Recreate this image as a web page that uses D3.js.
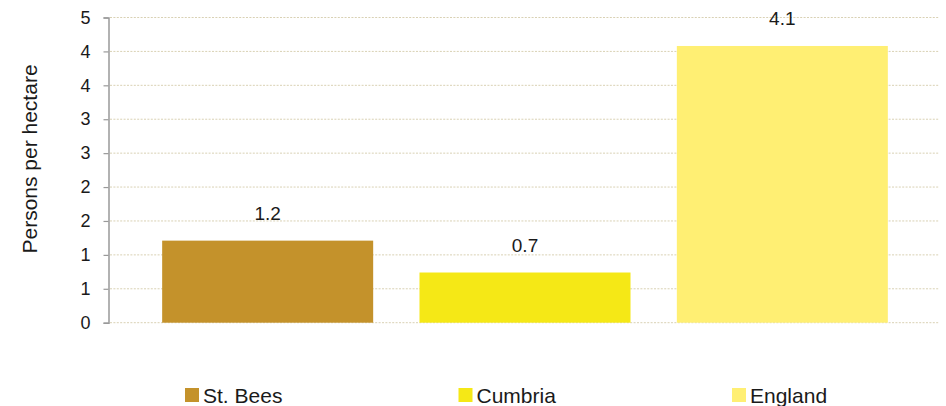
<!DOCTYPE html>
<html lang="en">
<head>
    <meta charset="UTF-8">
    <title>Persons per hectare</title>
    <script type="text/javascript" src="https://cdn.jsdelivr.net/npm/d3@7/dist/d3.min.js"></script>
    <style>
        body { margin: 0; background: #fff; }
        text { font-family: Arial, "Liberation Sans", sans-serif; fill: #1a1a1a; }
    </style>
</head>
<body>
<script type="text/javascript">
    const width = 946, height = 406;

    // data
    const categories = ['St. Bees', 'Cumbria', 'England'];
    const values = [1.21, 0.74, 4.08];
    const valueLabels = ['1.2', '0.7', '4.1'];
    const colors = ['#c4922b', '#f5e816', '#ffef73'];
    const tickValues = [0, 0.5, 1, 1.5, 2, 2.5, 3, 3.5, 4, 4.5];
    const tickLabels = ['0', '1', '1', '2', '2', '3', '3', '4', '4', '5'];

    const svg = d3.select('body').append('svg')
        .attr('width', width)
        .attr('height', height);

    const y = d3.scaleLinear().domain([0, 4.5]).range([322.7, 17.5]);
    const x = d3.scaleBand().domain(categories).range([139, 911])
        .paddingInner(0.18).paddingOuter(0.09);

    // grid lines (dotted)
    svg.append('g')
        .selectAll('line')
        .data(tickValues)
        .enter().append('line')
        .attr('x1', 110).attr('x2', 939)
        .attr('y1', d => y(d)).attr('y2', d => y(d))
        .attr('stroke', '#d9d1b4')
        .attr('stroke-width', 1)
        .attr('stroke-dasharray', '2,1.4');

    // bars
    svg.append('g')
        .selectAll('rect')
        .data(values)
        .enter().append('rect')
        .attr('x', (d, i) => x(categories[i]))
        .attr('width', x.bandwidth())
        .attr('y', d => y(d))
        .attr('height', d => y(0) - y(d))
        .attr('fill', (d, i) => colors[i]);

    // value labels
    svg.append('g')
        .selectAll('text')
        .data(values)
        .enter().append('text')
        .attr('x', (d, i) => x(categories[i]) + x.bandwidth() / 2)
        .attr('y', d => y(d) - 21)
        .style('font-size', '19px')
        .attr('text-anchor', 'middle')
        .text((d, i) => valueLabels[i]);

    // y axis
    const yAxis = d3.axisLeft(y)
        .tickValues(tickValues)
        .tickFormat((d, i) => tickLabels[i])
        .tickSize(5)
        .tickPadding(13);
    const ag = svg.append('g')
        .attr('transform', 'translate(108.5,0)')
        .call(yAxis)
        .attr('font-size', null)
        .attr('font-family', null);
    ag.select('.domain').attr('stroke', '#999').attr('stroke-width', 1.5);
    ag.selectAll('.tick line').attr('stroke', '#999').attr('stroke-width', 1.2);
    ag.selectAll('.tick text')
        .style('font-size', '18px')
        .attr('fill', '#1a1a1a');

    // axis title
    svg.append('text')
        .attr('transform', 'translate(37,159) rotate(-90)')
        .attr('text-anchor', 'middle')
        .style('font-size', '21px')
        .text('Persons per hectare');

    // legend
    const legend = svg.append('g')
        .selectAll('g')
        .data(categories)
        .enter().append('g')
        .attr('transform', (d, i) => `translate(${185 + i * 273.5}, 388)`);
    legend.append('rect')
        .attr('width', 14).attr('height', 14)
        .attr('fill', (d, i) => colors[i]);
    legend.append('text')
        .attr('x', 18)
        .attr('y', 7)
        .attr('dy', '0.36em')
        .style('font-size', '21px')
        .text(d => d);
</script>
</body>
</html>
